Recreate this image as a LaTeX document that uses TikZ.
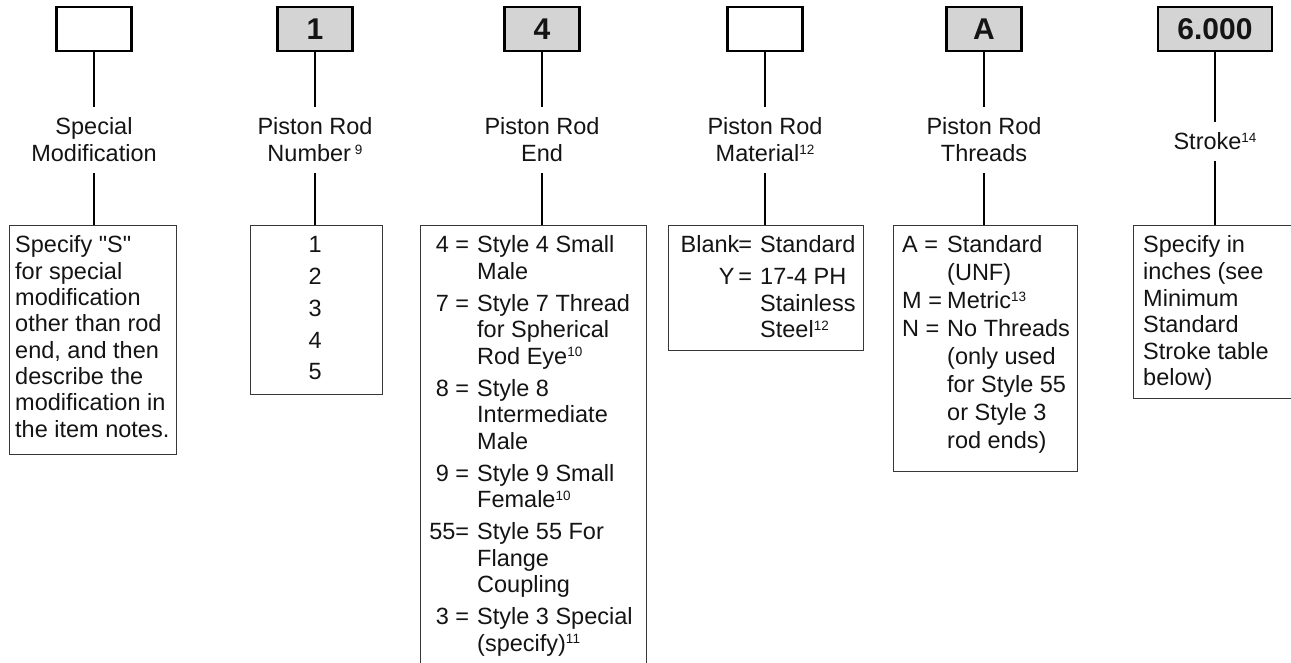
\documentclass[tikz,border=0pt]{standalone}
\usepackage{fontspec}
\setmainfont{Liberation Sans}[Ligatures=TeXOff]
\definecolor{boxgray}{RGB}{212,212,212}
\definecolor{lowline}{RGB}{55,55,55}
\definecolor{ink}{RGB}{20,20,20}
\newcommand\mystk[2]{\vtop{\baselineskip=#1\lineskiplimit=-1000pt\lineskip=0pt\relax #2}}
\newcommand\myctr[1]{\hbox to 150pt{\hss#1\hss}}
\newcommand\mynum[1]{\hbox to 40pt{\hss#1\hss}}
\newcommand\myrowc[2]{\hbox{\hbox to 49pt{\hfil #1}\hskip 8pt #2}}
\newcommand\myrowd[2]{\hbox{\hbox to 84pt{\hfil #1}\hskip 8pt #2}}
\newcommand\myrowe[2]{\hbox{\hbox to 45pt{#1\hfil}#2}}
\newcommand\mysup[1]{\raisebox{7.5pt}{\fontsize{13.5}{13.5}\selectfont #1}}
\begin{document}
\begin{tikzpicture}[x=1pt,y=-1pt,
  every node/.style={font=\fontsize{23.5}{26.5}\selectfont, text=ink},
  topbox/.style={draw=black, line width=2.3pt, minimum width=75pt, minimum height=44pt, inner sep=0pt, font=\fontsize{30}{30}\bfseries\selectfont},
  graybox/.style={topbox, fill=boxgray},
  whitebox/.style={topbox, fill=white},
  lab/.style={inner xsep=0pt, inner ysep=11pt, anchor=base},
  lowbox/.style={draw=lowline, line width=1.3pt, inner sep=0pt, anchor=north west, fill=white},
  conn/.style={line width=2pt, draw=black},
  body/.style={inner sep=0pt, anchor=base west}]
\useasboundingbox (0,0) rectangle (1291,663);
\clip (0,0) rectangle (1291,663);
\fill[white] (0,0) rectangle (1291,663);
% top boxes
\node[whitebox] (t1) at (94,29) {};
\node[graybox]  (t2) at (315,29) {1};
\node[graybox]  (t3) at (542,29) {4};
\node[whitebox] (t4) at (765,29) {};
\node[graybox]  (t5) at (984,29) {A};
\node[graybox, minimum width=114pt] (t6) at (1215,29) {6.000};
% labels
\node[lab] (l1) at (94,135)  {\mystk{27pt}{\myctr{Special}\myctr{Modification}}};
\node[lab] (l2) at (315,135) {\mystk{27pt}{\myctr{Piston Rod}\myctr{Number\,\mysup{9}}}};
\node[lab] (l3) at (542,135) {\mystk{27pt}{\myctr{Piston Rod}\myctr{End}}};
\node[lab] (l4) at (765,135) {\mystk{27pt}{\myctr{Piston Rod}\myctr{Material\mysup{12}}}};
\node[lab] (l5) at (984,135) {\mystk{27pt}{\myctr{Piston Rod}\myctr{Threads}}};
\node[lab] (l6) at (1215,150) {\mystk{27pt}{\myctr{Stroke\mysup{14}}}};
% lower boxes
\node[lowbox, minimum width=167pt, minimum height=229pt] (b1) at (9,225) {};
\node[lowbox, minimum width=132pt, minimum height=169pt] (b2) at (250,225) {};
\node[lowbox, minimum width=226pt, minimum height=460pt] (b3) at (420,225) {};
\node[lowbox, minimum width=195pt, minimum height=125pt] (b4) at (668,225) {};
\node[lowbox, minimum width=184pt, minimum height=246pt] (b5) at (893,225) {};
\node[lowbox, minimum width=168pt, minimum height=173pt] (b6) at (1133,225) {};
% connectors
\draw[conn] (t1.south) -- (l1.north);
\draw[conn] (l1.south) -- (l1.south |- b1.north);
\draw[conn] (t2.south) -- (l2.north);
\draw[conn] (l2.south) -- (l2.south |- b2.north);
\draw[conn] (t3.south) -- (l3.north);
\draw[conn] (l3.south) -- (l3.south |- b3.north);
\draw[conn] (t4.south) -- (l4.north);
\draw[conn] (l4.south) -- (l4.south |- b4.north);
\draw[conn] (t5.south) -- (l5.north);
\draw[conn] (l5.south) -- (l5.south |- b5.north);
\draw[conn] (t6.south) -- (l6.north);
\draw[conn] (l6.south) -- (l6.south |- b6.north);
% box texts
\node[body] (x1) at (15,253) {\mystk{26.3pt}{\hbox{Specify "S"}\hbox{for special}\hbox{modification}\hbox{other than rod}\hbox{end, and then}\hbox{describe the}\hbox{modification in}\hbox{the item notes.}}};
\node[body] (x2) at (295,253) {\mystk{31.7pt}{\mynum{1}\mynum{2}\mynum{3}\mynum{4}\mynum{5}}};
\node[body] (x3) at (420,253) {\mystk{26.5pt}{%
\myrowc{4 =}{Style 4 Small}\myrowc{}{Male}\vskip5.5pt
\myrowc{7 =}{Style 7 Thread}\myrowc{}{for Spherical}\myrowc{}{Rod Eye\mysup{10}}\vskip5.5pt
\myrowc{8 =}{Style 8}\myrowc{}{Intermediate}\myrowc{}{Male}\vskip5.5pt
\myrowc{9 =}{Style 9 Small}\myrowc{}{Female\mysup{10}}\vskip5.5pt
\myrowc{55=}{Style 55 For}\myrowc{}{Flange}\myrowc{}{Coupling}\vskip5.5pt
\myrowc{3 =}{Style 3 Special}\myrowc{}{(specify)\mysup{11}}}};
\node[body] (x4) at (668,253) {\mystk{26.5pt}{%
\myrowd{Blank\kern-1pt=}{Standard}\vskip5.5pt
\myrowd{Y\kern4pt=}{17-4 PH}\myrowd{}{Stainless}\myrowd{}{Steel\mysup{12}}}};
\node[body] (x5) at (902,253) {\mystk{28pt}{%
\myrowe{A =}{Standard}\myrowe{}{(UNF)}\myrowe{M =}{Metric\mysup{13}}\myrowe{N =}{No Threads}%
\myrowe{}{(only used}\myrowe{}{for Style 55}\myrowe{}{or Style 3}\myrowe{}{rod ends)}}};
\node[body] (x6) at (1143,253) {\mystk{26.6pt}{\hbox{Specify in}\hbox{inches (see}\hbox{Minimum}\hbox{Standard}\hbox{Stroke table}\hbox{below)}}};
\end{tikzpicture}
\end{document}
